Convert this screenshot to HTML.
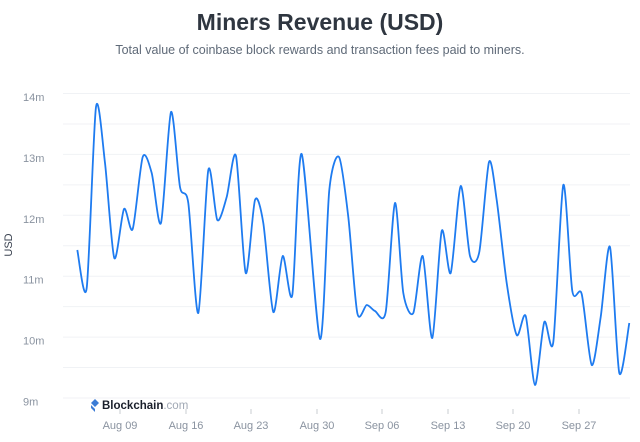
<!DOCTYPE html>
<html><head><meta charset="utf-8"><style>
body{margin:0;background:#fff;width:640px;height:437px;overflow:hidden;font-family:"Liberation Sans",sans-serif}
</style></head><body>
<svg width="640" height="437" xmlns="http://www.w3.org/2000/svg" font-family="Liberation Sans, sans-serif">
<text x="320" y="30" text-anchor="middle" font-size="23" font-weight="bold" fill="#2f3640">Miners Revenue (USD)</text>
<text x="320" y="54" text-anchor="middle" font-size="12.5" fill="#5f6a78">Total value of coinbase block rewards and transaction fees paid to miners.</text>
<g stroke="#f0f2f5" stroke-width="1" id="grid"></g>
<g font-size="11" fill="#8a93a0" id="ylab"></g>
<text transform="translate(12,245) rotate(-90)" text-anchor="middle" font-size="11" fill="#3a4250">USD</text>
<g stroke="#c8ccd2" id="ticks"></g>
<g font-size="11" fill="#8a93a0" text-anchor="middle">
<text x="120" y="429">Aug 09</text><text x="186" y="429">Aug 16</text><text x="251" y="429">Aug 23</text><text x="317" y="429">Aug 30</text>
<text x="382" y="429">Sep 06</text><text x="448" y="429">Sep 13</text><text x="513" y="429">Sep 20</text><text x="579" y="429">Sep 27</text>
</g>
<g transform="translate(91,399)"><path d="M0,4 L4,0 L8,4 L4,8Z M0,6 L4,10 L4,13 L0,9Z" fill="#3a7bd5"/></g>
<text x="102" y="409" font-size="11.5" font-weight="bold" fill="#1a1f2b">Blockchain<tspan fill="#a0a8b4" font-weight="normal">.com</tspan></text>
<path id="line" fill="none" stroke="#1e7bf0" stroke-width="1.8"/>
</svg>
<script>
var g=document.getElementById('grid'),yl=document.getElementById('ylab'),tk=document.getElementById('ticks');
var s='',l='';
for(var i=0;i<=10;i++){var y=93.5+i*30.45;s+='<line x1="63" x2="630" y1="'+y+'" y2="'+y+'"/>';}
g.innerHTML=s;
var labs=['14m','13m','12m','11m','10m','9m'];
for(var i=0;i<6;i++){l+='<text x="23" y="'+(101+i*60.9)+'">'+labs[i]+'</text>';}
yl.innerHTML=l;
var t='';[120,186,251,317,382,448,513,579].forEach(function(x){t+='<line x1="'+x+'" x2="'+x+'" y1="409" y2="414"/>';});tk.innerHTML=t;
var p=[[77.3,250],[86.7,288],[96,107],[105,163],[114.3,258],[124,209],[132.7,229],[142.7,157],[151.7,173],[161,223],[171,112],[180,187],[188.3,203],[198.3,313],[208.3,170],[217.3,220],[226.7,197],[236,156],[245.7,273],[255,200],[263.3,223],[273.3,312],[282.7,256],[292.3,295],[301.7,154],[320,339],[329.3,190],[339,157],[348.3,217],[357.3,313],[366.7,305],[375,311],[385.7,312],[395,203],[403.3,293],[413.3,313],[422.7,256],[432.3,338],[441.7,231],[450.7,273],[460.7,186],[470,256],[479.3,252],[489,162],[496.7,200],[506.7,283],[516.7,335],[525.7,316],[535,385],[544.3,322],[553.3,342],[563.3,185],[572.3,291],[581.7,294],[591.7,365],[600.7,317],[610,247],[619.3,373],[629.3,323]];
var d='M'+p[0][0]+','+p[0][1];
for(var i=0;i<p.length-1;i++){var p0=p[i-1]||p[i],p1=p[i],p2=p[i+1],p3=p[i+2]||p2;
var k=7.5;
var c1x=p1[0]+(p2[0]-p0[0])/k,c1y=p1[1]+(p2[1]-p0[1])/k,c2x=p2[0]-(p3[0]-p1[0])/k,c2y=p2[1]-(p3[1]-p1[1])/k;
d+=' C'+c1x+','+c1y+' '+c2x+','+c2y+' '+p2[0]+','+p2[1];}
document.getElementById('line').setAttribute('d',d);
</script>
</body></html>
